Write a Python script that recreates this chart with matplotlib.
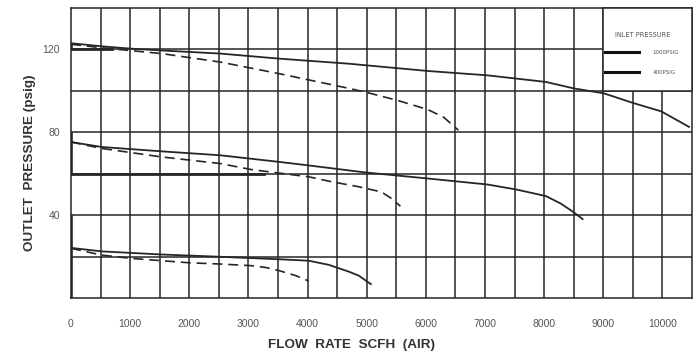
import matplotlib
matplotlib.use("Agg")
import matplotlib.pyplot as plt
from matplotlib.patches import Rectangle

INK = "#262626"; TXT = "#555555"; LAB = "#333333"

# 120 psig setting
flow_hi_1000 = [0, 520, 1000, 1530, 2525, 3500, 4700, 6030, 7040, 8030, 8500, 9010, 9510, 9980, 10450]
out_hi_1000 = [123, 121.5, 120.4, 119.5, 118, 115.6, 113.1, 109.6, 107.5, 104.3, 101.2, 98.8, 94.1, 90.1, 82.6]
flow_hi_400 = [0, 520, 1530, 2525, 3520, 4700, 4980, 5520, 6030, 6300, 6550]
out_hi_400 = [122.5, 120.8, 118, 113.9, 108.3, 101.2, 99.4, 95.4, 91, 87.3, 81]

# 60 psig setting
flow_mid_1000 = [0, 520, 1530, 2525, 3520, 4020, 4980, 6030, 7040, 7525, 8030, 8280, 8490, 8650]
out_mid_1000 = [75.3, 72.9, 70.8, 68.9, 65.7, 64, 60.6, 57.7, 54.8, 52.4, 49.2, 45.6, 41.6, 38.1]
flow_mid_400 = [0, 520, 1530, 2525, 3050, 3520, 4020, 4360, 4865, 5250, 5420, 5570]
out_mid_400 = [75.3, 72.2, 68.1, 64.9, 62, 60.3, 58.5, 56.4, 53.7, 51.2, 48, 44.3]

# 20 psig setting
flow_lo_1000 = [0, 520, 1530, 2525, 3520, 4020, 4360, 4700, 4865, 5070]
out_lo_1000 = [24.2, 22.5, 21, 19.9, 18.7, 18, 16, 12.7, 10.8, 6.7]
flow_lo_400 = [0, 520, 1030, 2000, 2525, 3050, 3300, 3520, 3800, 4020]
out_lo_400 = [24, 20.7, 19.1, 17, 16.4, 15.6, 14.7, 13.2, 10.8, 8.2]

# set-point markers (thick segments)
set_h = [(0, 700, 120), (0, 3270, 60)]
set_v = [(0, 0, 40), (0, 60, 80), (0, 120, 123)]

x_ticks = list(range(0, 10001, 1000))
y_ticks = [40, 80, 120]
legend_names = ["1000PSIG", "400PSIG"]

fig = plt.figure(figsize=(6.97, 3.55), dpi=100)
ax = fig.add_axes([71 / 697, 57 / 355, 621 / 697, 290 / 355])
ax.set_xlim(0, 10500); ax.set_ylim(0, 140)

for x in range(500, 10500, 500):
    top = 100 if x > 9000 else 140
    ax.plot([x, x], [0, top], color=INK, lw=1.1, zorder=1)
for y in range(20, 140, 20):
    ax.plot([0, 10500], [y, y], color=INK, lw=1.1, zorder=1)
for s in ax.spines.values():
    s.set_color(INK); s.set_linewidth(1.1)

for x0, x1, y in set_h:
    ax.plot([x0, x1], [y, y], color=INK, lw=2.0, zorder=3)
for x, y0, y1 in set_v:
    ax.plot([x, x], [y0, y1], color=INK, lw=2.6, zorder=3, solid_capstyle="butt")

for fx, py in [(flow_hi_1000, out_hi_1000), (flow_mid_1000, out_mid_1000), (flow_lo_1000, out_lo_1000)]:
    ax.plot(fx, py, color=INK, lw=1.3, zorder=4)
for fx, py in [(flow_hi_400, out_hi_400), (flow_mid_400, out_mid_400), (flow_lo_400, out_lo_400)]:
    ax.plot(fx, py, color=INK, lw=1.2, ls=(0, (6, 3.5)), zorder=4)

# legend box
ax.add_patch(Rectangle((9000, 100), 1500, 40, fc="white", ec=INK, lw=1.1, zorder=5, clip_on=False))
ax.text(9190, 127, "INLET PRESSURE", fontsize=4.8, color=TXT, va="center", zorder=6)
for name, yy in zip(legend_names, [118.6, 108.9]):
    ax.plot([9030, 9610], [yy, yy], color="#111111", lw=2.2, zorder=6)
    ax.text(9830, yy, name, fontsize=4, color=TXT, va="center", zorder=6)

ax.set_xticks(x_ticks); ax.set_yticks(y_ticks)
ax.tick_params(length=0, labelsize=7.5, labelcolor=TXT)
ax.tick_params(axis="x", pad=15)
ax.tick_params(axis="y", pad=8)
for t in ax.get_xticklabels() + ax.get_yticklabels():
    t.set_family("Liberation Sans")

ax.set_xlabel("FLOW  RATE  SCFH  (AIR)", fontsize=9.7, weight="bold", color=LAB,
              family="Liberation Sans")
ax.set_ylabel("OUTLET  PRESSURE (psig)", fontsize=9.7, weight="bold", color=LAB,
              family="Liberation Sans")
ax.xaxis.set_label_coords(0.452, -0.141)
ax.yaxis.set_label_coords(-0.057, 0.4655)

fig.savefig("out.png", dpi=100)
